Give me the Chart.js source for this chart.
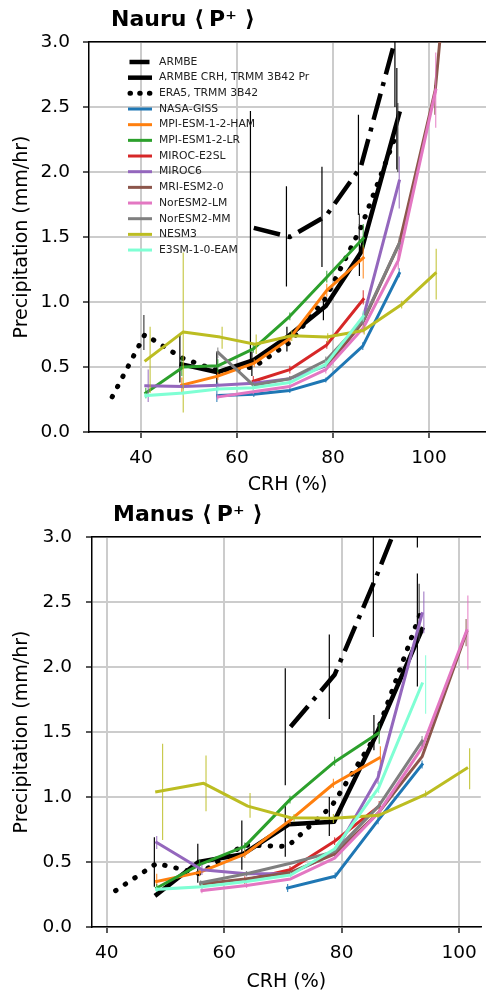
<!DOCTYPE html>
<html>
<head>
<meta charset="utf-8">
<script src="https://cdn.jsdelivr.net/npm/chart.js@4.4.1/dist/chart.umd.min.js"></script>
<style>
  body { margin: 0; background: #fff; width: 486px; height: 996px; overflow: hidden; position: relative; }
  canvas { position: absolute; left: 0; }
</style>
</head>
<body>
<canvas id="nauru" width="486" height="496" style="top:0"></canvas>
<canvas id="manus" width="486" height="500" style="top:496px"></canvas>
<script>
// ── series names (legend order)
const SERIES_NAMES = [
  'ARMBE', 'ARMBE CRH, TRMM 3B42 Pr', 'ERA5, TRMM 3B42',
  'NASA-GISS', 'MPI-ESM-1-2-HAM', 'MPI-ESM1-2-LR', 'MIROC-E2SL', 'MIROC6',
  'MRI-ESM2-0', 'NorESM2-LM', 'NorESM2-MM', 'NESM3', 'E3SM-1-0-EAM'
];
const X_TICKS = [40, 60, 80, 100];
const Y_TICKS = [0, 0.5, 1, 1.5, 2, 2.5, 3];

// ── Nauru: [CRH, P] per line, [CRH, low, high] per error bar
const nauruArmbe    = [[63.5,1.57],[71,1.50],[78.5,1.66],[85.8,2.04],[93.2,3.05]];
const nauruArmbeCrh = [[48.5,0.52],[56,0.46],[63.3,0.55],[70.8,0.74],[78.5,0.97],[85.8,1.38],[93.8,2.45]];
const nauruEra5     = [[34,0.27],[40.8,0.75],[48.5,0.57],[56,0.47],[63.5,0.50],[71,0.69],[78.5,1.03],[85.8,1.57],[93.3,2.3]];
const nauruGiss     = [[56,0.28],[63.5,0.29],[71,0.32],[78.5,0.40],[86.2,0.66],[93.8,1.22]];
const nauruMpiHam   = [[48.5,0.36],[56,0.43],[63.6,0.53],[71,0.72],[78.7,1.09],[86.3,1.34]];
const nauruMpiLr    = [[41,0.30],[48.8,0.50],[56.1,0.51],[63.4,0.64],[71,0.89],[78.7,1.19],[86.3,1.49]];
const nauruMirocE2  = [[63.4,0.39],[71,0.48],[78.7,0.67],[86.3,1.02]];
const nauruMiroc6   = [[41,0.355],[48.8,0.35],[56.1,0.36],[63.4,0.375],[71,0.41],[78.7,0.51],[86.3,0.88],[93.8,1.93]];
const nauruMri      = [[78.7,0.50],[86.3,0.85],[93.8,1.45],[101.3,2.63],[108.8,5.6]];
const nauruNorLm    = [[56.1,0.27],[63.4,0.31],[71,0.35],[78.5,0.48],[86.3,0.80],[93.6,1.32],[101.4,2.63]];
const nauruNorMm    = [[56.1,0.61],[63.4,0.36],[71,0.41],[78.5,0.55],[86.3,0.86],[93.8,1.45]];
const nauruNesm3    = [[41,0.55],[48.8,0.77],[56.5,0.73],[63.75,0.675],[71.4,0.74],[78.7,0.73],[86.3,0.78],[94.3,0.98],[101.3,1.22]];
const nauruE3sm     = [[41,0.28],[48.8,0.30],[56.1,0.33],[63.4,0.34],[71,0.38],[78.5,0.52],[86.3,0.89]];

const nauruArmbeErr    = [[62.8,0.49,2.47],[70.3,1.12,1.89],[77.7,1.27,2.04],[85.3,1.67,2.44],[92.9,2.5,3.6]];
const nauruArmbeCrhErr = [[48.1,0.38,0.75],[55.8,0.37,0.62],[63.1,0.43,0.62],[70.4,0.62,0.81],[78,0.86,1.03],[85.5,1.2,1.6],[93.3,2.02,2.8]];
const nauruEra5Err     = [[40.6,0.63,0.90],[85.5,1.45,1.68],[93.5,2.0,2.53]];
const nauruGissErr     = [[55.8,0.23,0.38],[63.5,0.27,0.31],[71,0.30,0.35],[78.5,0.38,0.42],[86.2,0.63,0.69],[93.8,1.19,1.26]];
const nauruMpiHamErr   = [[48.5,0.30,0.42],[56,0.40,0.46],[63.6,0.50,0.56],[71,0.69,0.75],[78.7,1.04,1.14],[86.3,1.18,1.44]];
const nauruMpiLrErr    = [[41,0.26,0.34],[48.5,0.43,0.58],[56,0.46,0.56],[63.4,0.61,0.67],[71,0.86,0.92],[78.7,1.15,1.24],[86.3,1.42,1.6]];
const nauruMirocE2Err  = [[63.4,0.36,0.43],[71,0.45,0.51],[78.7,0.64,0.70],[86.3,0.98,1.09]];
const nauruMiroc6Err   = [[41.5,0.23,0.48],[48.8,0.33,0.37],[56,0.34,0.38],[63.4,0.36,0.39],[71,0.39,0.43],[78.7,0.48,0.54],[86.3,0.84,0.92],[93.8,1.72,2.12]];
const nauruMriErr      = [[101.2,2.44,2.67]];
const nauruNorLmErr    = [[56,0.25,0.29],[63.4,0.29,0.33],[71,0.33,0.37],[78.5,0.45,0.51],[86.3,0.76,0.84],[93.6,1.25,1.4],[101.4,2.34,2.92]];
const nauruNorMmErr    = [[56,0.57,0.65],[63.4,0.34,0.38],[71,0.39,0.43],[78.5,0.52,0.58],[86.3,0.82,0.90],[93.8,1.4,1.5]];
const nauruNesm3Err    = [[41.9,0.30,0.81],[48.8,0.15,1.38],[56.9,0.64,0.81],[64,0.60,0.75],[71.4,0.70,0.78],[78.9,0.69,0.76],[86.5,0.75,0.82],[94.3,0.95,1.01],[101.5,1.02,1.41]];
const nauruE3smErr     = [[41,0.26,0.30],[48.8,0.28,0.32],[56,0.31,0.35],[63.4,0.32,0.36],[71,0.36,0.40],[78.5,0.49,0.55],[86.3,0.85,0.93]];

// ── Manus
const manusArmbe    = [[71.3,1.54],[78.8,1.94],[85.5,2.65],[93,3.5]];
const manusArmbeCrh = [[48.5,0.25],[55.6,0.50],[63.2,0.56],[71,0.79],[78.7,0.81],[85.8,1.47],[93.7,2.29]];
const manusEra5     = [[41.5,0.28],[48.5,0.49],[55.8,0.41],[63.3,0.63],[70.8,0.62],[78.3,0.93],[85.8,1.47],[93.3,2.4]];
const manusGiss     = [[70.8,0.30],[78.9,0.39],[86.2,0.82],[93.7,1.25]];
const manusMpiHam   = [[48.5,0.35],[55.8,0.42],[63.5,0.56],[71.2,0.82],[78.6,1.10],[86.4,1.30]];
const manusMpiLr    = [[48.5,0.30],[55.8,0.48],[63.5,0.62],[71.2,0.98],[78.8,1.27],[86.2,1.49]];
const manusMirocE2  = [[63.5,0.36],[71.2,0.44],[78.8,0.66],[86.4,0.93]];
const manusMiroc6   = [[48.5,0.65],[56.2,0.44],[63.8,0.41],[71.3,0.41],[78.8,0.57],[86.2,1.15],[93.7,2.41]];
const manusMri      = [[56,0.33],[63.6,0.37],[71.3,0.42],[78.8,0.56],[86.3,0.88],[93.7,1.31],[101.3,2.27]];
const manusNorLm    = [[56.2,0.28],[63.8,0.32],[71.3,0.37],[78.8,0.53],[86.3,0.88],[93.7,1.38],[101.3,2.28]];
const manusNorMm    = [[56,0.34],[63.8,0.41],[71.3,0.49],[78.8,0.58],[86.3,0.93],[93.7,1.43]];
const manusNesm3    = [[48.5,1.04],[56.5,1.105],[64,0.93],[71.3,0.84],[78.6,0.836],[86.4,0.86],[94.3,1.02],[101.3,1.22]];
const manusE3sm     = [[48.5,0.29],[56.2,0.31],[63.8,0.35],[71.3,0.40],[78.8,0.60],[86.3,1.07],[93.7,1.87]];

const manusArmbeErr    = [[70.4,1.09,1.99],[77.9,1.6,2.25],[85.4,2.23,3.3],[92.9,2.92,3.8]];
const manusArmbeCrhErr = [[48.1,0.31,0.69],[55.5,0.34,0.64],[63,0.44,0.82],[70.4,0.54,0.95],[77.9,0.70,1.0],[85.5,1.36,1.63],[92.9,1.85,2.72]];
const manusEra5Err     = [[93.2,2.2,2.64]];
const manusGissErr     = [[70.8,0.27,0.33],[78.9,0.37,0.42],[86.2,0.79,0.85],[93.7,1.22,1.28]];
const manusMpiHamErr   = [[48.5,0.30,0.41],[55.8,0.39,0.45],[63.5,0.53,0.59],[71.2,0.79,0.85],[78.6,1.07,1.14],[86.6,1.23,1.39]];
const manusMpiLrErr    = [[48.5,0.27,0.33],[55.8,0.45,0.52],[63.5,0.59,0.65],[71.2,0.95,1.01],[78.8,1.24,1.31],[86.4,1.41,1.57]];
const manusMirocE2Err  = [[63.5,0.33,0.39],[71.2,0.41,0.47],[78.8,0.63,0.69],[86.4,0.89,0.97]];
const manusMiroc6Err   = [[48.5,0.60,0.70],[56.2,0.40,0.48],[63.8,0.39,0.43],[71.3,0.39,0.43],[78.8,0.54,0.60],[86.2,1.10,1.20],[94,2.26,2.58]];
const manusMriErr      = [[56,0.31,0.35],[101.2,2.16,2.37]];
const manusNorLmErr    = [[56.2,0.26,0.30],[63.8,0.30,0.34],[101.5,1.98,2.55]];
const manusNorMmErr    = [[56,0.32,0.36],[63.8,0.39,0.43],[93.7,1.39,1.47]];
const manusNesm3Err    = [[49.5,0.67,1.41],[56.9,0.89,1.32],[64.4,0.84,1.03],[71.9,0.81,0.87],[78.6,0.80,0.87],[86.2,0.84,0.88],[94.3,1.0,1.05],[101.8,1.06,1.375]];
const manusE3smErr     = [[48.5,0.27,0.31],[56.2,0.29,0.33],[71.3,0.38,0.42],[86.3,1.03,1.11],[94.3,1.64,2.09]];

const NAURU_LINES = [nauruArmbe, nauruArmbeCrh, nauruEra5, nauruGiss, nauruMpiHam, nauruMpiLr, nauruMirocE2, nauruMiroc6, nauruMri, nauruNorLm, nauruNorMm, nauruNesm3, nauruE3sm];
const NAURU_ERRS  = [nauruArmbeErr, nauruArmbeCrhErr, nauruEra5Err, nauruGissErr, nauruMpiHamErr, nauruMpiLrErr, nauruMirocE2Err, nauruMiroc6Err, nauruMriErr, nauruNorLmErr, nauruNorMmErr, nauruNesm3Err, nauruE3smErr];
const MANUS_LINES = [manusArmbe, manusArmbeCrh, manusEra5, manusGiss, manusMpiHam, manusMpiLr, manusMirocE2, manusMiroc6, manusMri, manusNorLm, manusNorMm, manusNesm3, manusE3sm];
const MANUS_ERRS  = [manusArmbeErr, manusArmbeCrhErr, manusEra5Err, manusGissErr, manusMpiHamErr, manusMpiLrErr, manusMirocE2Err, manusMiroc6Err, manusMriErr, manusNorLmErr, manusNorMmErr, manusNesm3Err, manusE3smErr];

// ── line styles, same order as SERIES_NAMES
const SERIES_STYLE = [
  { color: '#000000', width: 4.5, dash: [27, 8, 4, 8], err: '#000000' },
  { color: '#000000', width: 4.5, err: '#000000' },
  { color: '#000000', width: 5, dash: [0.5, 11], cap: 'round', err: '#444444' },
  { color: '#1f77b4', width: 3 },
  { color: '#ff7f0e', width: 3 },
  { color: '#2ca02c', width: 3 },
  { color: '#d62728', width: 3 },
  { color: '#9467bd', width: 3 },
  { color: '#8c564b', width: 3 },
  { color: '#e377c2', width: 3 },
  { color: '#7f7f7f', width: 3 },
  { color: '#bcbd22', width: 3 },
  { color: '#7fffd4', width: 3 }
];

const FONT = "'DejaVu Sans', sans-serif";
Chart.defaults.font.family = FONT;
Chart.defaults.color = '#000';

function buildDatasets(lines, errs) {
  const sets = [];
  SERIES_NAMES.forEach((name, i) => {
    const st = SERIES_STYLE[i];
    sets.push({
      label: name,
      data: lines[i].map(([x, y]) => ({ x, y })),
      borderColor: st.color,
      borderWidth: st.width,
      borderDash: st.dash || [],
      borderCapStyle: st.cap || (st.dash ? 'butt' : 'square'),
      borderJoinStyle: 'round',
      pointRadius: 0,
      tension: 0,
      fill: false,
      order: 100 - i
    });
    const errData = [];
    errs[i].forEach(([x, lo, hi]) => errData.push({ x, y: lo }, { x, y: hi }, { x, y: null }));
    sets.push({
      label: '',
      isErr: true,
      data: errData,
      borderColor: st.err || st.color + 'cc',
      borderWidth: 1.2,
      pointRadius: 0,
      spanGaps: false,
      fill: false,
      order: 100.5 - i
    });
  });
  return sets;
}

// ── title + in-axes legend
const decorPlugin = {
  id: 'decor',
  afterDraw(chart, args, opts) {
    const ctx = chart.ctx;
    ctx.save();
    ctx.fillStyle = '#000';
    ctx.font = 'bold 22px ' + FONT;
    ctx.textAlign = 'left';
    ctx.textBaseline = 'middle';
    // name, then the bracketed symbol spaced like the mathtext original
    ctx.fillText(opts.title, opts.titleX, opts.titleY);
    const w = ctx.measureText(opts.title + ' ').width;
    ctx.fillText('⟨', opts.titleX + w, opts.titleY);
    ctx.fillText('P⁺', opts.titleX + w + 15, opts.titleY);
    ctx.fillText('⟩', opts.titleX + w + 51, opts.titleY);
    if (opts.legend) {
      ctx.font = '10.8px ' + FONT;
      SERIES_NAMES.forEach((name, i) => {
        const st = SERIES_STYLE[i];
        const y = 62 + i * 15.67;
        ctx.beginPath();
        ctx.strokeStyle = st.color;
        ctx.lineWidth = st.width;
        ctx.lineCap = st.cap || 'butt';
        ctx.setLineDash(st.dash ? (st.cap ? [0.5, 9.2] : [20, 40]) : []);
        ctx.lineDashOffset = 0;
        ctx.moveTo(st.dash && !st.cap ? 129.5 : (st.cap ? 130 : 128), y);
        ctx.lineTo(152, y);
        ctx.stroke();
        ctx.setLineDash([]);
        ctx.fillStyle = '#222';
        ctx.fillText(name, 159, y);
      });
    }
    ctx.restore();
  }
};

function makePanel(id, lines, errs, p) {
  return new Chart(document.getElementById(id), {
    type: 'line',
    data: { datasets: buildDatasets(lines, errs) },
    options: {
      responsive: false,
      animation: false,
      devicePixelRatio: 1,
      layout: { padding: { top: p.top, right: 0, left: 0, bottom: 0 } },
      plugins: {
        legend: { display: false },
        tooltip: { enabled: false },
        decor: { title: p.title, titleX: p.titleX, titleY: p.titleY, legend: p.legend }
      },
      scales: {
        x: {
          type: 'linear',
          min: p.xMin, max: p.xMax,
          afterBuildTicks: s => { s.ticks = X_TICKS.map(v => ({ value: v })); },
          afterFit: s => { s.height = p.xAxisH; },
          grid: { color: '#cccccc', lineWidth: 2, tickColor: '#000', tickWidth: 1.3, tickLength: 6 },
          border: { color: '#000', width: 1.5 },
          ticks: { color: '#000', font: { size: 18.5 }, padding: 9, maxRotation: 0, autoSkip: false },
          title: { display: true, text: 'CRH (%)', color: '#000', font: { size: 19 }, padding: { top: 0, bottom: p.xTitlePad } }
        },
        x2: {
          type: 'linear',
          position: 'top',
          min: p.xMin, max: p.xMax,
          ticks: { display: false },
          grid: { display: false, drawTicks: false },
          border: { color: '#000', width: 1.5 },
          afterFit: s => { s.height = 0; }
        },
        y: {
          min: 0, max: 3,
          afterBuildTicks: s => { s.ticks = Y_TICKS.map(v => ({ value: v })); },
          afterFit: s => { s.width = p.yAxisW; },
          grid: { color: '#cccccc', lineWidth: 2, tickColor: '#000', tickWidth: 1.3, tickLength: 6 },
          border: { color: '#000', width: 1.5 },
          ticks: { color: '#000', font: { size: 18.5 }, padding: p.yTickPad, callback: v => v.toFixed(1) },
          title: { display: true, text: 'Precipitation (mm/hr)', color: '#000', font: { size: 19 }, padding: { top: 11, bottom: 0 } }
        }
      }
    },
    plugins: [decorPlugin]
  });
}

makePanel('nauru', NAURU_LINES, NAURU_ERRS, {
  title: 'Nauru', titleX: 111, titleY: 20, legend: true,
  top: 42, xAxisH: 64, yAxisW: 89, xMin: 29.167, xMax: 111.875, xTitlePad: 0, yTickPad: 13
});
makePanel('manus', MANUS_LINES, MANUS_ERRS, {
  title: 'Manus', titleX: 113, titleY: 19, legend: false,
  top: 41, xAxisH: 69, yAxisW: 92, xMin: 37.479, xMax: 103.70, xTitlePad: 3, yTickPad: 14
});
</script>
</body>
</html>
